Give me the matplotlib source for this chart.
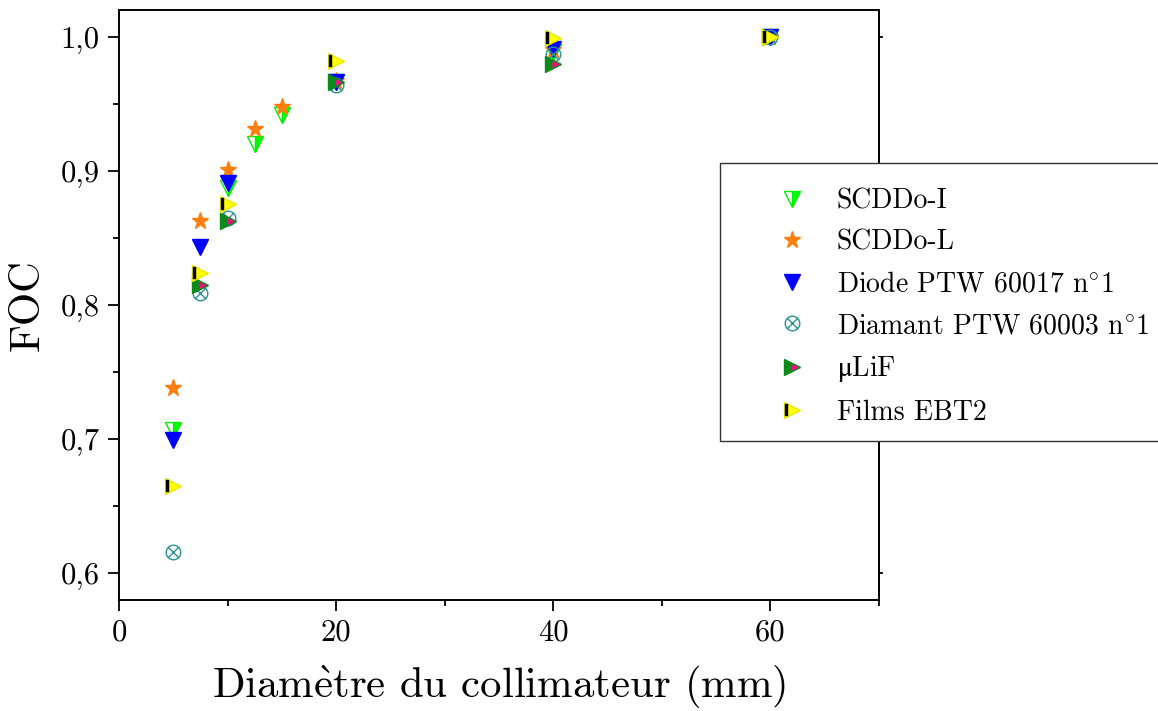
import matplotlib
matplotlib.use("Agg")
import matplotlib.pyplot as plt
import numpy as np
from matplotlib.path import Path
from matplotlib.patches import Rectangle
from matplotlib.legend_handler import HandlerTuple
from matplotlib.ticker import MultipleLocator, FuncFormatter

# ---- data ----
x_scddo_i = [5, 10, 12.5, 15, 20, 40, 60]
y_scddo_i = [0.707, 0.887, 0.920, 0.942, 0.966, 0.989, 1.000]

x_scddo_l = [5, 7.5, 10, 12.5, 15, 20, 40, 60]
y_scddo_l = [0.738, 0.863, 0.901, 0.931, 0.948, 0.967, 0.990, 1.000]

x_diode = [5, 7.5, 10, 20, 40, 60]
y_diode = [0.699, 0.843, 0.891, 0.966, 0.991, 1.000]

x_diamant = [5, 7.5, 10, 20, 40, 60]
y_diamant = [0.616, 0.809, 0.865, 0.964, 0.987, 1.000]

x_lif = [7.5, 10, 20, 40, 60]
y_lif = [0.815, 0.863, 0.966, 0.980, 1.000]

x_ebt2 = [5, 7.5, 10, 20, 40, 60]
y_ebt2 = [0.665, 0.824, 0.875, 0.982, 0.999, 1.000]

labels = ["SCDDo-I", "SCDDo-L", r"Diode PTW 60017 n$^{\circ}$1",
          r"Diamant PTW 60003 n$^{\circ}$1", r"$\mathrm{\mu}$LiF", "Films EBT2"]

plt.rcParams['font.family'] = ['cmr10', 'DejaVu Serif']
plt.rcParams['axes.formatter.use_mathtext'] = True
plt.rcParams['mathtext.fontset'] = 'cm'

fig = plt.figure(figsize=(11.58, 7.11), dpi=100)
ax = fig.add_axes([0.1028, 0.156, 0.656, 0.830])

# custom markers
circ = Path.unit_circle()
xlines = Path([(-0.707, -0.707), (0.707, 0.707), (-0.707, 0.707), (0.707, -0.707)],
              [Path.MOVETO, Path.LINETO, Path.MOVETO, Path.LINETO])
circ_x = Path.make_compound_path(circ, xlines)

bar = Path([(1, 0), (-0.88, -0.66), (-0.50, -0.66), (-0.50, 0.66), (-0.88, 0.66), (-0.88, -0.66)],
           [Path.MOVETO, Path.MOVETO, Path.LINETO, Path.LINETO, Path.LINETO, Path.CLOSEPOLY])

h1, = ax.plot(x_scddo_i, y_scddo_i, ls='none', marker='v', ms=12,
              fillstyle='right', markerfacecolor='#00ff00', markerfacecoloralt='white',
              markeredgecolor='#00ee00', mew=1.0)
h2, = ax.plot(x_scddo_l, y_scddo_l, ls='none', marker='*', ms=12.5,
              color='#ff7f0e', mec='#ff7f0e')
h3, = ax.plot(x_diode, y_diode, ls='none', marker='v', ms=12,
              color='#0000ff', mec='#0000ff')
h4, = ax.plot(x_diamant, y_diamant, ls='none', marker=circ_x, ms=10.5,
              mfc='none', mec='#2b9494', mew=1.0)
h5, = ax.plot(x_lif, y_lif, ls='none', marker='>', ms=12,
              fillstyle='right', markerfacecolor='#e8127a', markerfacecoloralt='#0a8a1a',
              markeredgecolor='#0a8a1a', mew=1.0)
h6a, = ax.plot(x_ebt2, y_ebt2, ls='none', marker='>', ms=12,
               color='#ffff00', mec='#e8e800', mew=1.0)
h6b, = ax.plot(x_ebt2, y_ebt2, ls='none', marker=bar, ms=12,
               color='black', mec='black', mew=0.3)

ax.set_xlim(0, 70)
ax.set_ylim(0.58, 1.02)
ax.xaxis.set_major_locator(MultipleLocator(20))
ax.xaxis.set_minor_locator(MultipleLocator(10))
ax.yaxis.set_major_locator(MultipleLocator(0.1))
ax.yaxis.set_minor_locator(MultipleLocator(0.05))
ax.yaxis.set_major_formatter(FuncFormatter(lambda v, p: f"{v:.1f}".replace('.', ',')))
ax.xaxis.set_major_formatter(FuncFormatter(lambda v, p: f"{v:.0f}"))

ax.tick_params(axis='both', which='major', direction='out', length=8, width=1.3,
               labelsize=22, pad=6)
ax.tick_params(axis='both', which='minor', direction='out', length=4, width=1.3)
for s in ax.spines.values():
    s.set_linewidth(1.4)

sec = ax.secondary_yaxis('right')
sec.yaxis.set_major_locator(MultipleLocator(0.1))
sec.yaxis.set_minor_locator(MultipleLocator(0.05))
sec.tick_params(axis='y', which='major', length=3, width=1.3, labelright=False)
sec.tick_params(axis='y', which='minor', length=0)
sec.spines['right'].set_linewidth(1.4)

ax.set_xlabel(r"Diam$\grave{\mathrm{e}}$tre du collimateur (mm)", fontsize=30.8, labelpad=12)
ax.set_ylabel("FOC", fontsize=30.8, labelpad=10)

# legend frame (extends past the right edge of the figure)
fig.patches.append(Rectangle((720 / 1158, 1 - 441 / 711), (1200 - 720) / 1158,
                             (441 - 163) / 711, transform=fig.transFigure,
                             facecolor='white', edgecolor='#333333', lw=1.0,
                             zorder=5))

leg = fig.legend([h1, h2, h3, h4, h5, (h6a, h6b)], labels,
                 handler_map={tuple: HandlerTuple(ndivide=1, pad=0)},
                 loc='upper left', bbox_to_anchor=(764 / 1158, 1 - 188 / 711),
                 bbox_transform=fig.transFigure,
                 fontsize=20, frameon=False,
                 borderpad=0, labelspacing=0.55, handlelength=2.0,
                 handletextpad=0.62, borderaxespad=0, numpoints=1)
leg.set_zorder(6)
leg.get_texts()[4].set_math_fontfamily('stix')

fig.savefig("out.png", dpi=100)
